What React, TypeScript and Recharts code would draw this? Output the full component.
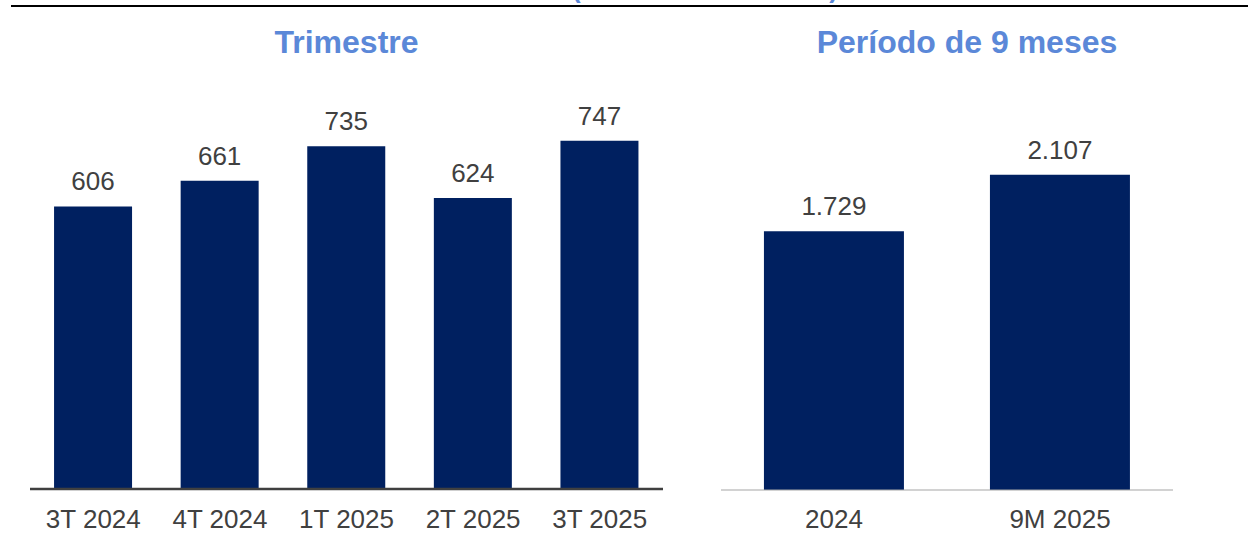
import { Bar, BarChart, LabelList, XAxis, YAxis } from 'recharts';

const quarterLabels = ['3T 2024', '4T 2024', '1T 2025', '2T 2025', '3T 2025'];
const quarterValues = [606, 661, 735, 624, 747];

const periodLabels = ['2024', '9M 2025'];
const periodValues = [1729, 2107];

const BAR_COLOR = '#002060';
const TITLE_COLOR = '#5B88D8';
const TEXT_COLOR = '#404040';
const FONT = '"Liberation Sans", Arial, sans-serif';

const quarterData = quarterLabels.map((name, i) => ({ name, value: quarterValues[i] }));
const periodData = periodLabels.map((name, i) => ({ name, value: periodValues[i] }));

// pt-BR style thousands separator
const fmt = (v: number) => v.toLocaleString('de-DE');

export default function App() {
  return (
    <div
      style={{
        position: 'absolute',
        left: 0,
        top: 0,
        width: 1248,
        height: 533,
        background: '#fff',
        overflow: 'hidden',
        fontFamily: FONT,
      }}
    >
      {/* header text cut off above the page, as in the source */}
      <div
        style={{
          position: 'absolute',
          left: 572,
          top: -24,
          fontSize: 26,
          lineHeight: '26px',
          fontWeight: 700,
          color: TITLE_COLOR,
          whiteSpace: 'nowrap',
        }}
      >
        (em milhões de reais)
      </div>
      <div
        style={{ position: 'absolute', left: 11, top: 5, width: 1237, height: 2.3, background: '#000' }}
      />

      <div
        style={{
          position: 'absolute',
          left: 30,
          width: 633,
          top: 24,
          textAlign: 'center',
          fontSize: 32,
          fontWeight: 700,
          color: TITLE_COLOR,
        }}
      >
        Trimestre
      </div>
      <div
        style={{
          position: 'absolute',
          left: 721,
          width: 492,
          top: 24,
          textAlign: 'center',
          fontSize: 32,
          fontWeight: 700,
          color: TITLE_COLOR,
        }}
      >
        Período de 9 meses
      </div>

      <div style={{ position: 'absolute', left: 30, top: 0 }}>
        <BarChart
          width={633}
          height={533}
          data={quarterData}
          margin={{ top: 116, right: 0, left: 0, bottom: 0 }}
          barCategoryGap="19%"
        >
          <XAxis
            dataKey="name"
            height={44}
            tickLine={false}
            axisLine={{ stroke: '#404040', strokeWidth: 2.5 }}
            tick={{ fontSize: 26, fill: TEXT_COLOR, fontFamily: FONT }}
            tickMargin={15}
            interval={0}
          />
          <YAxis hide domain={[0, 800]} />
          <Bar dataKey="value" fill={BAR_COLOR} isAnimationActive={false}>
            <LabelList
              dataKey="value"
              position="top"
              offset={16}
              formatter={(v: any) => fmt(v)}
              style={{ fontSize: 26, fill: TEXT_COLOR, fontFamily: FONT }}
            />
          </Bar>
        </BarChart>
      </div>

      <div style={{ position: 'absolute', left: 721, top: 0 }}>
        <BarChart
          width={452}
          height={533}
          data={periodData}
          margin={{ top: 131, right: 0, left: 0, bottom: 0 }}
          barCategoryGap="19%"
        >
          <XAxis
            dataKey="name"
            height={43}
            tickLine={false}
            axisLine={{ stroke: '#a6a6a6', strokeWidth: 1.2 }}
            tick={{ fontSize: 26, fill: TEXT_COLOR, fontFamily: FONT }}
            tickMargin={14}
            interval={0}
          />
          <YAxis hide domain={[0, 2400]} />
          <Bar dataKey="value" fill={BAR_COLOR} isAnimationActive={false}>
            <LabelList
              dataKey="value"
              position="top"
              offset={16}
              formatter={(v: any) => fmt(v)}
              style={{ fontSize: 26, fill: TEXT_COLOR, fontFamily: FONT }}
            />
          </Bar>
        </BarChart>
      </div>
    </div>
  );
}
